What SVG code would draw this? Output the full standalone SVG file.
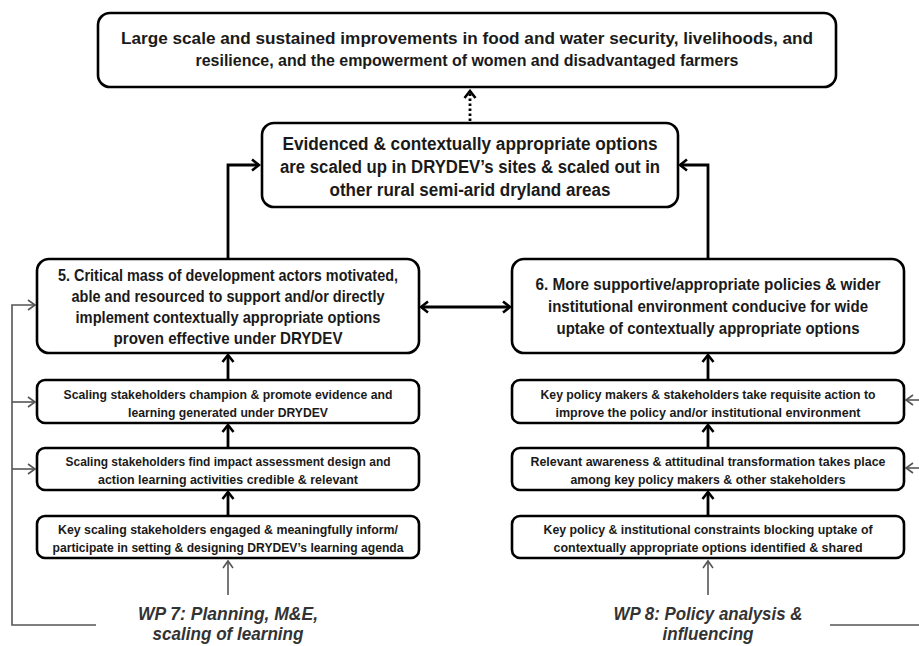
<svg xmlns="http://www.w3.org/2000/svg" width="919" height="646" viewBox="0 0 919 646">
<style>
.box{fill:#fff;stroke:#000;stroke-width:2.6}
.t{font-family:"Liberation Sans",Arial,sans-serif;font-weight:bold;fill:#1a1a1a;text-anchor:middle}
.big{font-size:17px}
.mid{font-size:18px}
.sm{font-size:13.5px}
.wp{font-family:"Liberation Sans",Arial,sans-serif;font-style:italic;font-weight:bold;font-size:18.5px;fill:#333;text-anchor:middle}
.c{fill:none;stroke:#000;stroke-width:2.8}
.g{fill:none;stroke:#555;stroke-width:1.6}
.d{fill:none;stroke:#000;stroke-width:2.8;stroke-dasharray:2.5 2.5}
</style>
<defs>
<marker id="ah" viewBox="-10 -7 12 14" refX="0" refY="0" markerWidth="12" markerHeight="14" markerUnits="userSpaceOnUse" orient="auto-start-reverse">
<path d="M-7,-5.5 L0,0 L-7,5.5" fill="none" stroke="#000" stroke-width="2.6"/>
</marker>
<marker id="gh" viewBox="-10 -7 12 14" refX="0" refY="0" markerWidth="12" markerHeight="14" markerUnits="userSpaceOnUse" orient="auto">
<path d="M-7,-5 L0,0 L-7,5" fill="none" stroke="#555" stroke-width="1.6"/>
</marker>
</defs>

<g id="connectors">
<line class="d" x1="470" y1="121" x2="470" y2="91" marker-end="url(#ah)"/>
<polyline class="c" points="228,258 228,165 259,165" marker-end="url(#ah)"/>
<polyline class="c" points="708,258 708,165 680,165" marker-end="url(#ah)"/>
<line class="c" x1="421" y1="307" x2="510" y2="307" marker-start="url(#ah)" marker-end="url(#ah)"/>
<line class="c" x1="228" y1="380" x2="228" y2="355" marker-end="url(#ah)"/>
<line class="c" x1="228" y1="448" x2="228" y2="425" marker-end="url(#ah)"/>
<line class="c" x1="228" y1="516" x2="228" y2="492" marker-end="url(#ah)"/>
<line class="c" x1="708" y1="380" x2="708" y2="355" marker-end="url(#ah)"/>
<line class="c" x1="708" y1="448" x2="708" y2="425" marker-end="url(#ah)"/>
<line class="c" x1="708" y1="516" x2="708" y2="492" marker-end="url(#ah)"/>
<line class="g" x1="228" y1="595" x2="228" y2="561" marker-end="url(#gh)"/>
<line class="g" x1="708" y1="595" x2="708" y2="561" marker-end="url(#gh)"/>
<polyline class="g" points="96,625 12,625 12,305 35,305" marker-end="url(#gh)"/>
<line class="g" x1="12" y1="402" x2="35" y2="402" marker-end="url(#gh)"/>
<line class="g" x1="12" y1="469" x2="35" y2="469" marker-end="url(#gh)"/>
<line class="g" x1="830" y1="625" x2="919" y2="625"/>
<line class="g" x1="919" y1="400" x2="906" y2="400" marker-end="url(#gh)"/>
<line class="g" x1="919" y1="468" x2="906" y2="468" marker-end="url(#gh)"/>
</g>

<g id="goal">
<rect class="box" x="98" y="13" width="738" height="74" rx="12"/>
<text class="t big" x="467" y="44" textLength="692" lengthAdjust="spacingAndGlyphs">Large scale and sustained improvements in food and water security, livelihoods, and</text>
<text class="t big" x="467" y="66" textLength="543" lengthAdjust="spacingAndGlyphs">resilience, and the empowerment of women and disadvantaged farmers</text>
</g>

<g id="scaled">
<rect class="box" x="262" y="123" width="416" height="84" rx="12"/>
<text class="t mid" x="470" y="150" textLength="375" lengthAdjust="spacingAndGlyphs">Evidenced &amp; contextually appropriate options</text>
<text class="t mid" x="470" y="173" textLength="380" lengthAdjust="spacingAndGlyphs">are scaled up in DRYDEV’s sites &amp; scaled out in</text>
<text class="t mid" x="470" y="196" textLength="281" lengthAdjust="spacingAndGlyphs">other rural semi-arid dryland areas</text>
</g>

<g id="outcome5">
<rect class="box" x="37" y="259" width="382" height="94" rx="12"/>
<text class="t big" x="228" y="281" textLength="340" lengthAdjust="spacingAndGlyphs">5. Critical mass of development actors motivated,</text>
<text class="t big" x="228" y="302" textLength="313" lengthAdjust="spacingAndGlyphs">able and resourced to support and/or directly</text>
<text class="t big" x="228" y="323" textLength="305" lengthAdjust="spacingAndGlyphs">implement contextually appropriate options</text>
<text class="t big" x="228" y="344" textLength="229" lengthAdjust="spacingAndGlyphs">proven effective under DRYDEV</text>
</g>

<g id="outcome6">
<rect class="box" x="512" y="259" width="392" height="94" rx="12"/>
<text class="t big" x="708" y="290" textLength="345" lengthAdjust="spacingAndGlyphs">6. More supportive/appropriate policies &amp; wider</text>
<text class="t big" x="708" y="312" textLength="320" lengthAdjust="spacingAndGlyphs">institutional environment conducive for wide</text>
<text class="t big" x="708" y="334" textLength="303" lengthAdjust="spacingAndGlyphs">uptake of contextually appropriate options</text>
</g>

<g id="champion">
<rect class="box" x="37" y="380" width="382" height="43" rx="8"/>
<text class="t sm" x="228" y="399" textLength="329" lengthAdjust="spacingAndGlyphs">Scaling stakeholders champion &amp; promote evidence and</text>
<text class="t sm" x="228" y="417" textLength="200" lengthAdjust="spacingAndGlyphs">learning generated under DRYDEV</text>
</g>

<g id="credible">
<rect class="box" x="37" y="448" width="382" height="42" rx="8"/>
<text class="t sm" x="228" y="466" textLength="325" lengthAdjust="spacingAndGlyphs">Scaling stakeholders find impact assessment design and</text>
<text class="t sm" x="228" y="484" textLength="260" lengthAdjust="spacingAndGlyphs">action learning activities credible &amp; relevant</text>
</g>

<g id="engaged">
<rect class="box" x="37" y="516" width="382" height="42" rx="8"/>
<text class="t sm" x="228" y="534" textLength="340" lengthAdjust="spacingAndGlyphs">Key scaling stakeholders engaged &amp; meaningfully inform/</text>
<text class="t sm" x="228" y="552" textLength="351" lengthAdjust="spacingAndGlyphs">participate in setting &amp; designing DRYDEV’s learning agenda</text>
</g>

<g id="action">
<rect class="box" x="512" y="380" width="392" height="43" rx="8"/>
<text class="t sm" x="708" y="399" textLength="335" lengthAdjust="spacingAndGlyphs">Key policy makers &amp; stakeholders take requisite action to</text>
<text class="t sm" x="708" y="417" textLength="305" lengthAdjust="spacingAndGlyphs">improve the policy and/or institutional environment</text>
</g>

<g id="awareness">
<rect class="box" x="512" y="448" width="392" height="42" rx="8"/>
<text class="t sm" x="708" y="466" textLength="355" lengthAdjust="spacingAndGlyphs">Relevant awareness &amp; attitudinal transformation takes place</text>
<text class="t sm" x="708" y="484" textLength="275" lengthAdjust="spacingAndGlyphs">among key policy makers &amp; other stakeholders</text>
</g>

<g id="constraints">
<rect class="box" x="512" y="516" width="392" height="42" rx="8"/>
<text class="t sm" x="708" y="534" textLength="329" lengthAdjust="spacingAndGlyphs">Key policy &amp; institutional constraints blocking uptake of</text>
<text class="t sm" x="708" y="552" textLength="309" lengthAdjust="spacingAndGlyphs">contextually appropriate options identified &amp; shared</text>
</g>

<g id="wp7">
<text class="wp" x="228" y="620" textLength="180" lengthAdjust="spacingAndGlyphs">WP 7: Planning, M&amp;E,</text>
<text class="wp" x="228" y="640" textLength="151" lengthAdjust="spacingAndGlyphs">scaling of learning</text>
</g>

<g id="wp8">
<text class="wp" x="708" y="620" textLength="189" lengthAdjust="spacingAndGlyphs">WP 8: Policy analysis &amp;</text>
<text class="wp" x="708" y="640" textLength="91" lengthAdjust="spacingAndGlyphs">influencing</text>
</g>
</svg>
